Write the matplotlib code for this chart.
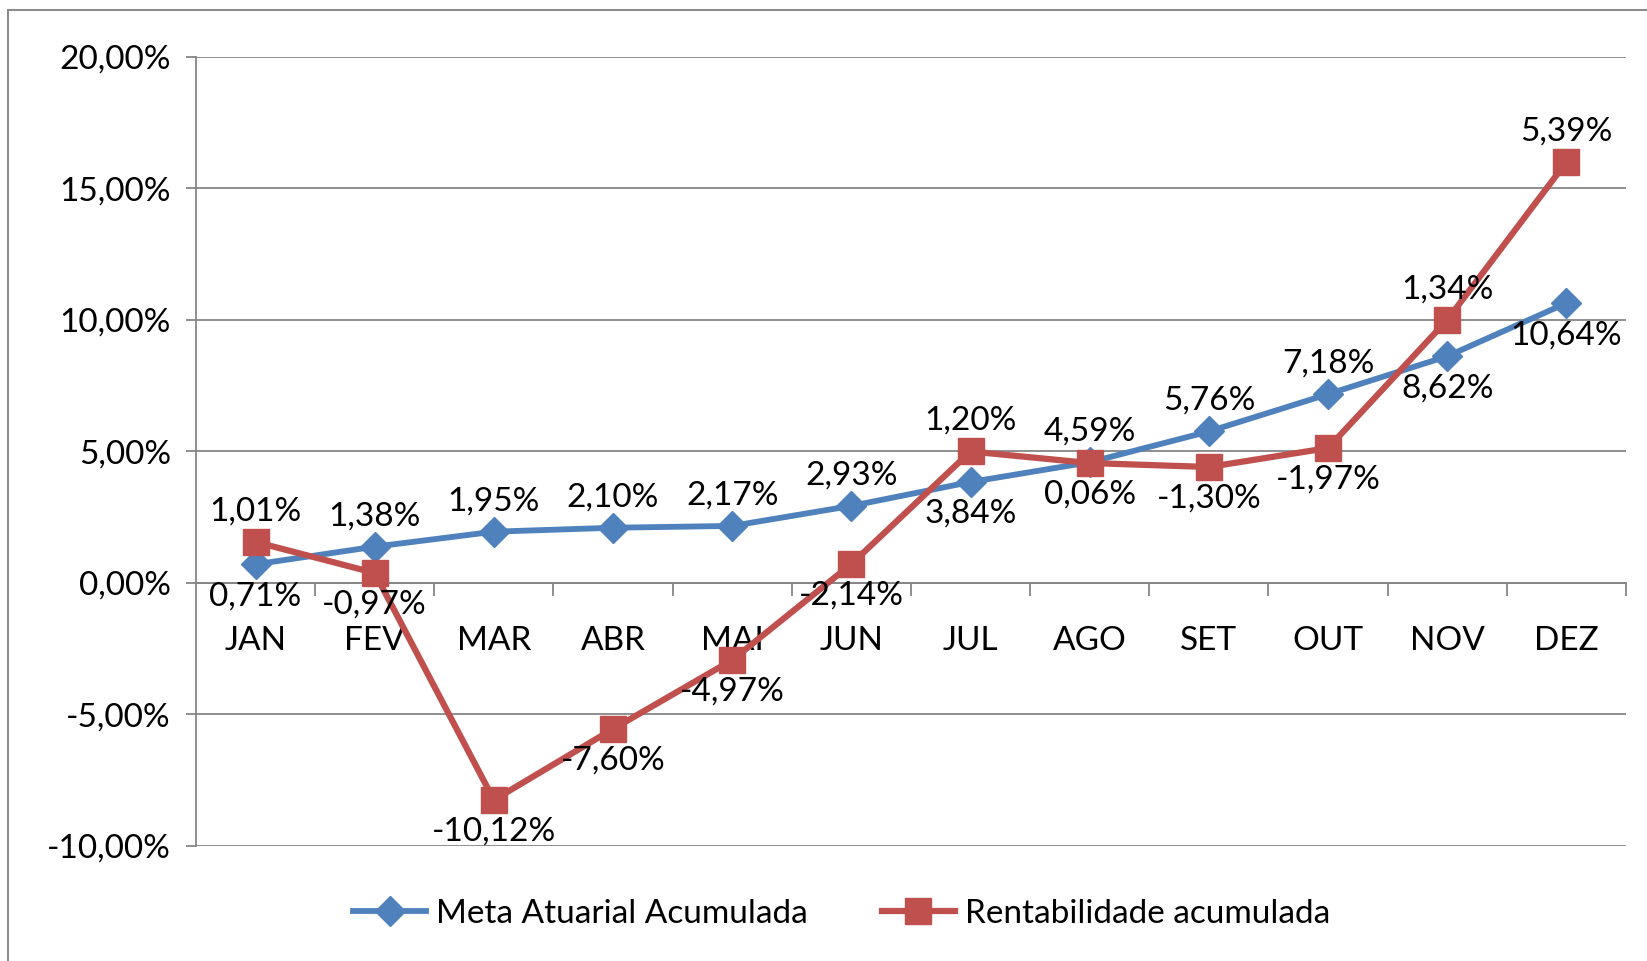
import matplotlib.pyplot as plt
from matplotlib.ticker import FixedLocator, FuncFormatter
from matplotlib.patches import Rectangle

plt.rcParams['font.family'] = ['Lato', 'DejaVu Sans']

meses = ['JAN', 'FEV', 'MAR', 'ABR', 'MAI', 'JUN', 'JUL', 'AGO', 'SET', 'OUT', 'NOV', 'DEZ']
meta = [0.71, 1.38, 1.95, 2.10, 2.17, 2.93, 3.84, 4.59, 5.76, 7.18, 8.62, 10.64]
rentab = [1.56, 0.38, -8.25, -5.55, -2.93, 0.72, 5.00, 4.56, 4.41, 5.13, 10.00, 16.00]
rentab_rotulos = ['1,01%', '-0,97%', '-10,12%', '-7,60%', '-4,97%', '-2,14%',
                  '1,20%', '0,06%', '-1,30%', '-1,97%', '1,34%', '5,39%']

azul = '#4F81BD'
vermelho = '#C0504D'
cinza = '#868686'
fs = 24


def pct(v):
    return f"{v:.2f}%".replace('.', ',')


fig = plt.figure(figsize=(16.47, 9.61), dpi=100)
# moldura do grafico (so aparece em cima e a esquerda)
fig.add_artist(Rectangle((0.0049, -0.2), 1.2, 1.1896, transform=fig.transFigure,
                         fill=False, edgecolor='#8c8c8c', linewidth=1.5))

ax = fig.add_axes([0.1190, 0.1197, 0.8682, 0.8210])
x = list(range(len(meses)))

ax.plot(x, meta, color=azul, lw=4.2, marker='D', ms=15, zorder=3,
        label='Meta Atuarial Acumulada')
ax.plot(x, rentab, color=vermelho, lw=4.5, marker='s', ms=19, zorder=4,
        label='Rentabilidade acumulada')

# rotulos: serie mais alta em cima, mais baixa embaixo
for i in x:
    for val, txt, outro in [(meta[i], pct(meta[i]), rentab[i]),
                            (rentab[i], rentab_rotulos[i], meta[i])]:
        dy = 22 if val >= outro else -23
        ax.annotate(txt, (i, val), xytext=(0, dy), textcoords='offset points',
                    ha='center', va='center', fontsize=fs, color='black', zorder=5)

ax.set_xlim(-0.5, 11.5)
ax.set_ylim(-10, 20)
ax.yaxis.set_major_locator(FixedLocator([-10, -5, 0, 5, 10, 15, 20]))
ax.yaxis.set_major_formatter(FuncFormatter(lambda v, p: pct(v)))
ax.grid(axis='y', color=cinza, lw=1.3)
ax.set_axisbelow(True)

for s in ['top', 'right']:
    ax.spines[s].set_visible(False)
ax.spines['left'].set_color(cinza)
ax.spines['left'].set_linewidth(1.3)
ax.spines['bottom'].set_position(('data', 0))
ax.spines['bottom'].set_color(cinza)
ax.spines['bottom'].set_linewidth(1.3)

ax.xaxis.set_major_locator(FixedLocator([i + 0.5 for i in x]))
ax.xaxis.set_major_formatter(FuncFormatter(lambda v, p: ''))
ax.xaxis.set_minor_locator(FixedLocator(x))
ax.xaxis.set_minor_formatter(FuncFormatter(lambda v, p: meses[int(round(v))]))
ax.tick_params(axis='x', which='major', length=9.5, width=1.3, color=cinza)
ax.tick_params(axis='x', which='minor', length=0, pad=31, labelsize=fs)
ax.tick_params(axis='y', length=7, width=1.3, color=cinza, pad=11, labelsize=fs)

fig.legend(loc='center', bbox_to_anchor=(0.511, 0.049), ncol=2, frameon=False,
           fontsize=fs, handlelength=2.2, handletextpad=0.3, columnspacing=2.2)

fig.savefig('out.png', dpi=100)
